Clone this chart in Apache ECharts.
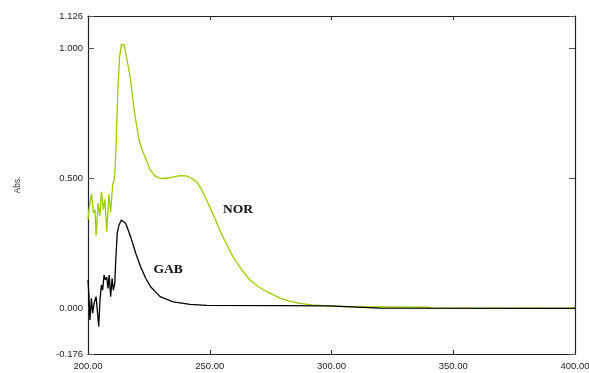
<!DOCTYPE html>
<html><head><meta charset="utf-8">
<script src="https://cdn.jsdelivr.net/npm/echarts@6/dist/echarts.min.js"></script>
<style>html,body{margin:0;padding:0;background:#fff}#c{width:589px;height:373px}</style>
</head><body><div id="c"></div>
<script>
var norX = [200.0,200.4,200.8,201.4,202.2,202.9,203.3,203.7,204.1,204.9,205.5,206.3,206.9,207.7,208.6,209.3,210.1,210.7,211.2,211.6,212.3,213.0,213.7,214.8,216.0,217.5,219.0,220.9,222.2,223.4,225.5,227.5,229.6,233.7,237.8,240.5,242.5,244.6,246.5,248.7,251.5,254.2,257.0,259.5,263.0,266.5,270.0,273.4,278.9,283.0,287.1,292.0,298.0,306.2,320.0,340.0,341.0,360.0,380.0,399.0,400.0];
var norY = [0.34,0.38,0.405,0.44,0.367,0.38,0.28,0.33,0.405,0.355,0.449,0.38,0.42,0.295,0.44,0.37,0.475,0.494,0.545,0.65,0.85,0.97,1.017,1.017,0.96,0.88,0.76,0.65,0.612,0.584,0.533,0.51,0.50,0.503,0.511,0.51,0.50,0.488,0.46,0.417,0.36,0.30,0.245,0.199,0.15,0.109,0.083,0.064,0.039,0.027,0.019,0.013,0.009,0.006,0.005,0.004,0.002,0.001,0.001,0.001,0.003];
var gabX = [200.0,200.4,200.8,201.4,201.9,202.5,203.3,203.8,204.4,204.9,205.5,206.0,206.6,207.1,207.7,208.2,208.7,209.3,209.9,210.4,211.0,211.4,212.0,212.7,213.7,214.5,215.5,217.5,219.6,221.6,223.7,225.7,229.6,235.0,241.9,248.7,278.9,299.4,319.9,400.0];
var gabY = [0.109,0.045,-0.045,0.039,-0.019,0.019,0.045,-0.005,-0.071,0.03,0.09,0.07,0.128,0.11,0.12,0.077,0.128,0.045,0.116,0.07,0.096,0.186,0.289,0.32,0.34,0.34,0.327,0.276,0.212,0.16,0.116,0.083,0.045,0.025,0.015,0.011,0.010,0.009,0.001,0.0];
var yTicks = [-0.176, 0.0, 0.5, 1.0, 1.126];
var xTicks = [200, 250, 300, 350, 400];
var yTitle = 'Abs.';

function pairs(xs, ys){ return xs.map(function(x,i){ return [x, ys[i]]; }); }

var chart = echarts.init(document.getElementById('c'), null, {renderer:'canvas'});
var axisFont = {fontFamily:'Liberation Sans', fontSize:9.5, color:'#222'};
chart.setOption({
  animation:false,
  backgroundColor:'#fff',
  grid:{left:88, right:14, top:16, bottom:19, show:false, containLabel:false, outerBoundsMode:'none'},
  xAxis:[{
    type:'value', min:200, max:400, interval:50, position:'bottom',
    axisLine:{show:true, onZero:false, lineStyle:{color:'#222', width:1.2}},
    axisTick:{show:true, inside:true, length:4, lineStyle:{color:'#222'}},
    axisLabel:Object.assign({formatter:function(v){return v.toFixed(2);}, margin:7}, axisFont),
    splitLine:{show:false}
  },{
    type:'value', min:200, max:400, interval:50, position:'top',
    axisLine:{show:true, onZero:false, lineStyle:{color:'#222', width:1.2}},
    axisTick:{show:true, inside:true, length:4, lineStyle:{color:'#222'}},
    axisLabel:{show:false}, splitLine:{show:false}
  }],
  yAxis:[{
    type:'value', min:-0.176, max:1.126, position:'left',
    name:yTitle, nameLocation:'middle', nameGap:66, nameRotate:90,
    nameTextStyle:{fontFamily:'Liberation Sans', fontSize:8.5, color:'#333'},
    axisLine:{show:true, onZero:false, lineStyle:{color:'#222', width:1.2}},
    axisTick:{show:true, inside:true, length:6, customValues:yTicks, lineStyle:{color:'#555'}},
    axisLabel:Object.assign({customValues:yTicks, formatter:function(v){return v.toFixed(3);}, margin:5}, axisFont),
    splitLine:{show:false}
  },{
    type:'value', min:-0.176, max:1.126, position:'right',
    axisLine:{show:true, onZero:false, lineStyle:{color:'#222', width:1.2}},
    axisTick:{show:true, inside:true, length:6, customValues:yTicks, lineStyle:{color:'#555'}},
    axisLabel:{show:false}, splitLine:{show:false}
  }],
  series:[{
    type:'line', name:'NOR', data:pairs(norX, norY), showSymbol:false, smooth:false,
    lineStyle:{color:'#9ACD00', width:1.3}, z:2,
    markPoint:{symbol:'circle', symbolSize:0, data:[{coord:[261.6,0.379]}],
      label:{show:true, position:'inside', formatter:'NOR', fontFamily:'Liberation Serif', fontWeight:'bold', fontSize:13.5, color:'#111'}}
  },{
    type:'line', name:'GAB', data:pairs(gabX, gabY), showSymbol:false, smooth:false,
    lineStyle:{color:'#000', width:1.3}, z:3,
    markPoint:{symbol:'circle', symbolSize:0, data:[{coord:[232.9,0.148]}],
      label:{show:true, position:'inside', formatter:'GAB', fontFamily:'Liberation Serif', fontWeight:'bold', fontSize:13.5, color:'#111'}}
  }]
});
</script></body></html>
